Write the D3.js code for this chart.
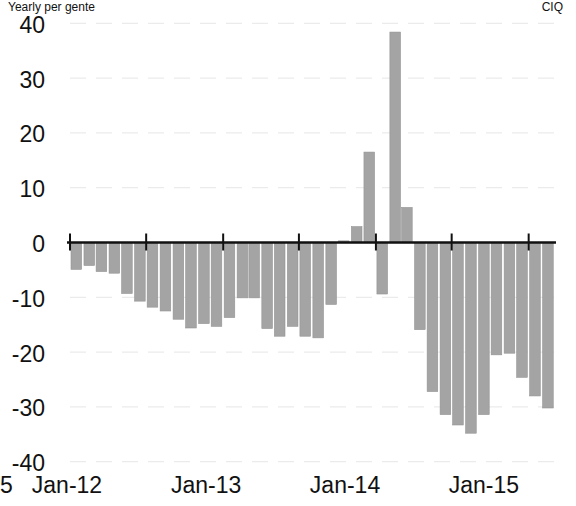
<!DOCTYPE html>
<html>
<head>
<meta charset="utf-8">
<script src="https://cdn.jsdelivr.net/npm/d3@7"></script>
<style>
  html, body { margin: 0; padding: 0; background: #fff; }
  svg { display: block; }
  text { font-family: "Liberation Sans", Arial, sans-serif; fill: #111; }
</style>
</head>
<body>
<svg id="chart" width="576" height="506"></svg>
<script>
// ---- data ----
const months = [
  "Jan-12","Feb-12","Mar-12","Apr-12","May-12","Jun-12","Jul-12","Aug-12","Sep-12","Oct-12","Nov-12","Dec-12",
  "Jan-13","Feb-13","Mar-13","Apr-13","May-13","Jun-13","Jul-13","Aug-13","Sep-13","Oct-13","Nov-13","Dec-13",
  "Jan-14","Feb-14","Mar-14","Apr-14","May-14","Jun-14","Jul-14","Aug-14","Sep-14","Oct-14","Nov-14","Dec-14",
  "Jan-15","Feb-15"
];
const values = [
  -4.9, -4.2, -5.3, -5.6, -9.3, -10.7, -11.8, -12.5, -14.0, -15.6, -14.8, -15.3,
  -13.7, -10.1, -10.1, -15.7, -17.1, -15.3, -17.1, -17.4, -11.3, 0.3, 2.9, 16.5,
  -9.4, 38.4, 6.4, -15.9, -27.2, -31.4, -33.3, -34.8, -31.4, -20.5, -20.2, -24.6,
  -28.0, -30.2
];
const yTicks = [40, 30, 20, 10, 0, -10, -20, -30, -40];
const xTickLabels = ["Jan-12", "Jan-13", "Jan-14", "Jan-15"];
const titleText = "Yearly per gente";
const sourceText = "CIQ";
const strayText = "5";

// ---- setup ----
const parse = d3.timeParse("%b-%y");
const dates = months.map(parse);
const svg = d3.select("#chart");

const x = d3.scaleTime()
  .domain([dates[0], d3.timeMonth.offset(dates[dates.length - 1], 1)])
  .range([70, 70 + months.length * 12.72]);
const xLabel = d3.scaleTime()
  .domain(x.domain())
  .range([67, 67 + months.length * 11.56]);
const y = d3.scaleLinear().domain([-40, 40]).range([461.7, 23.3]);

// gridlines
svg.append("g")
  .selectAll("line")
  .data(yTicks.filter(d => d !== 0))
  .join("line")
  .attr("x1", 70).attr("x2", 556)
  .attr("y1", d => y(d)).attr("y2", d => y(d))
  .attr("stroke", "#ebebeb")
  .attr("stroke-width", 1.2)
  .attr("stroke-dasharray", "16,10");

// y labels
svg.append("g")
  .selectAll("text")
  .data(yTicks)
  .join("text")
  .attr("x", 45)
  .attr("y", d => y(d) + 1.5)
  .attr("dy", "0.35em")
  .attr("text-anchor", "end")
  .attr("font-size", 23)
  .text(d => d);

// bars
const bw = 10.6;
svg.append("g")
  .selectAll("rect")
  .data(values)
  .join("rect")
  .attr("x", (d, i) => x(dates[i]) + 1)
  .attr("width", bw)
  .attr("y", d => y(Math.max(0, d)))
  .attr("height", d => Math.abs(y(d) - y(0)))
  .attr("fill", "#a4a4a4")
  .attr("stroke", "#939393")
  .attr("stroke-width", 0.6);

// zero axis line
svg.append("line")
  .attr("x1", 67).attr("x2", 556)
  .attr("y1", y(0)).attr("y2", y(0))
  .attr("stroke", "#111")
  .attr("stroke-width", 2.6);

// half-year ticks
const tickDates = d3.timeMonth.every(6).range(dates[0], d3.timeMonth.offset(dates[dates.length - 1], 1));
svg.append("g")
  .selectAll("line")
  .data(tickDates)
  .join("line")
  .attr("x1", d => x(d)).attr("x2", d => x(d))
  .attr("y1", y(0) - 9).attr("y2", y(0) + 8)
  .attr("stroke", "#111")
  .attr("stroke-width", 2);

// x labels
svg.append("g")
  .selectAll("text")
  .data(xTickLabels)
  .join("text")
  .attr("x", d => xLabel(parse(d)))
  .attr("y", 493)
  .attr("text-anchor", "middle")
  .attr("font-size", 23)
  .text(d => d);

// edge texts (kept fully inside the frame)
svg.append("text")
  .attr("x", 8).attr("y", 11)
  .attr("font-size", 12)
  .attr("fill", "#333")
  .text(titleText);
svg.append("text")
  .attr("x", 563).attr("y", 11)
  .attr("text-anchor", "end")
  .attr("font-size", 12)
  .attr("fill", "#333")
  .text(sourceText);
svg.append("text")
  .attr("x", 0).attr("y", 493)
  .attr("font-size", 23)
  .text(strayText);
</script>
</body>
</html>
